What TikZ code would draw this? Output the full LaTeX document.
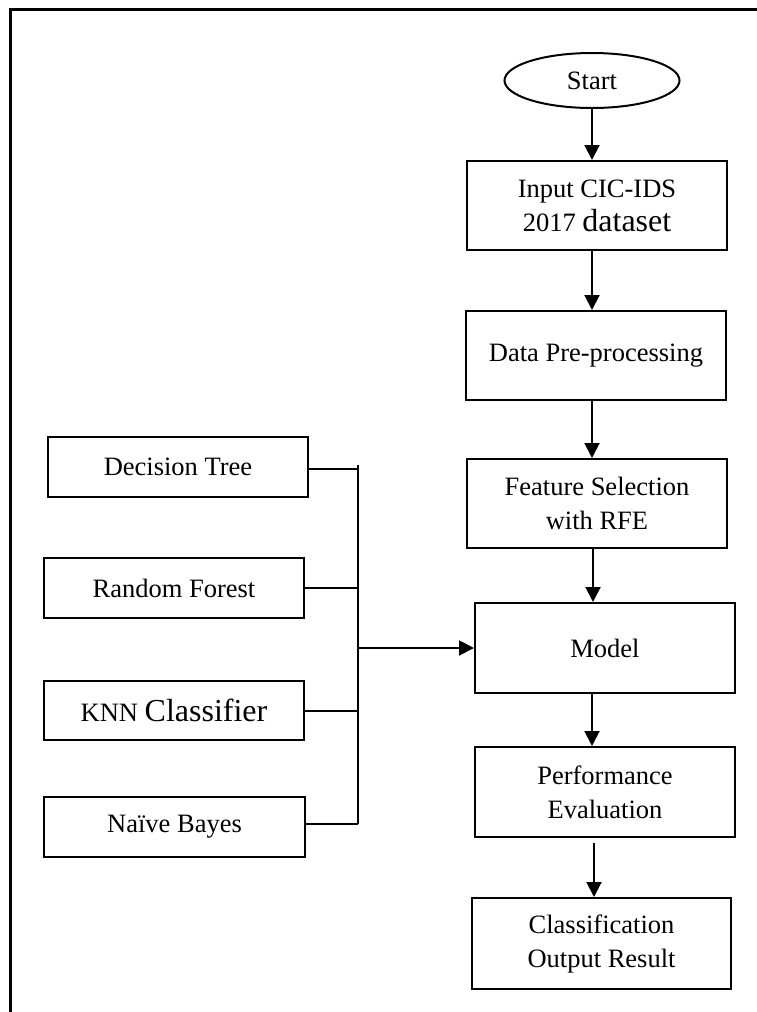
\documentclass[tikz,border=0pt]{standalone}
\usepackage{fontspec}
\setmainfont{Liberation Serif}
\usetikzlibrary{arrows.meta,shapes.geometric}

\tikzset{
  box/.style={draw, line width=2pt, rectangle, inner sep=0pt, align=center,
    minimum width=260pt, font=\fontsize{26.5}{34}\selectfont},
  oval/.style={draw, line width=2pt, ellipse, inner sep=0pt,
    minimum width=175pt, minimum height=55pt, font=\fontsize{26.5}{34}\selectfont},
  arr/.style={line width=2pt, -{Triangle[length=15pt,width=15pt]}},
  link/.style={line width=2pt},
  frame/.style={line width=3.2pt, line join=miter}
}

\begin{document}
\begin{tikzpicture}[x=1pt,y=-1pt]
  \useasboundingbox (0,0) rectangle (756,1012);

  % page frame (top and left edges)
  \draw[frame] (10.8,1014) -- (10.8,9.5) -- (758,9.5);

  % main flow
  \node[oval] (start) at (592,80.5) {Start};
  \node[box, minimum height=89pt] (input) at (597,205.5)
    {Input CIC-IDS\\2017 {\fontsize{32}{36}\selectfont dataset}};
  \node[box, minimum height=89pt] (prep) at (596,355.5) {Data Pre-processing};
  \node[box, minimum height=89pt] (fsel) at (597,503.5) {Feature Selection\\with RFE};
  \node[box, minimum height=90pt] (model) at (605,648) {Model};
  \node[box, minimum height=90pt] (perf) at (605,792) {Performance\\Evaluation};
  \node[box, minimum height=91pt, minimum width=259pt] (cls) at (601.5,943.5)
    {Classification\\Output Result};

  % classifiers
  \node[box, minimum height=60pt] (dt) at (178,467) {Decision Tree};
  \node[box, minimum height=60pt] (rf) at (174,588) {Random Forest};
  \node[box, minimum height=59pt] (knn) at (174,710.5)
    {KNN {\fontsize{32}{36}\selectfont Classifier}};
  \node[box, minimum height=60pt, minimum width=261pt] (nb) at (174.5,827) {Naïve Bayes};

  % collecting bus
  \coordinate (bustop) at (357.5,465);
  \coordinate (busbot) at (357.5,824);

  % flow arrows
  \draw[arr] (start.south) -- (start.south |- input.north);
  \draw[arr] (input.south -| start) -- (start |- prep.north);
  \draw[arr] (prep.south -| start) -- (start |- fsel.north);
  \draw[arr] ([xshift=1pt]fsel.south -| start) -- ([xshift=1pt]start |- model.north);
  \draw[arr] (model.south -| start) -- (start |- perf.north);
  \draw[arr] ([xshift=2pt,yshift=-5pt]perf.south -| start) -- ([xshift=2pt]start |- cls.north);

  % classifier connectors
  \draw[link] ([yshift=-1.5pt]dt.east) -- ([yshift=-1.5pt]dt.east -| bustop);
  \draw[link] (rf.east) -- (rf.east -| bustop);
  \draw[link] (knn.east) -- (knn.east -| bustop);
  \draw[link] (nb.east |- busbot) -- (busbot);
  \draw[link] (bustop) -- (busbot);
  \draw[arr] (model.west -| bustop) -- (model.west);
\end{tikzpicture}
\end{document}
